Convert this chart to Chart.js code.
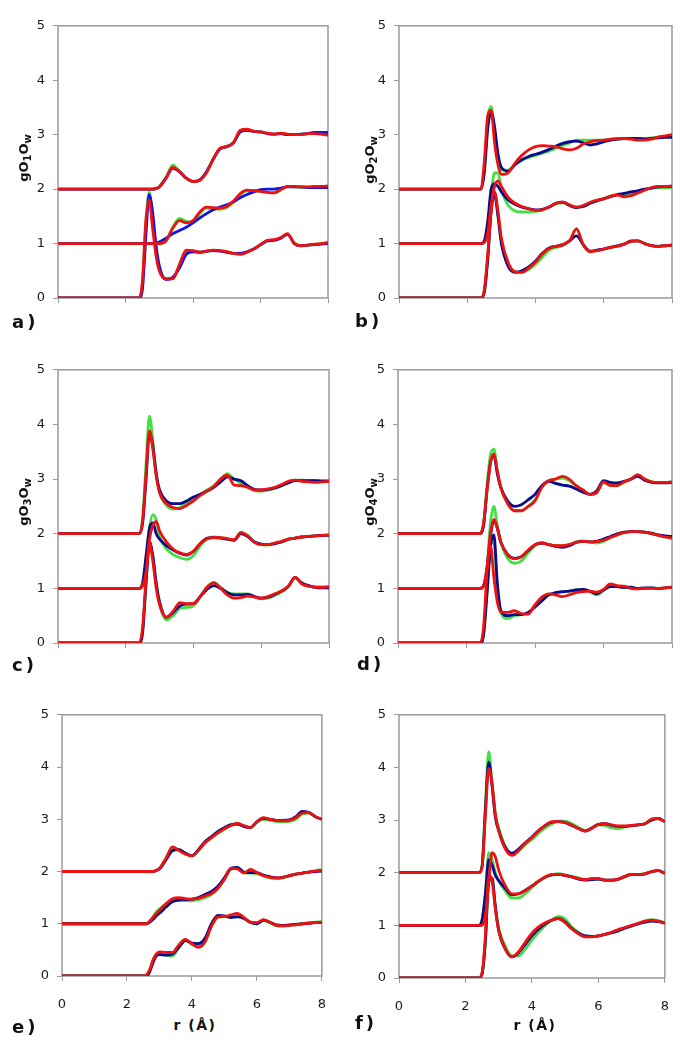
<!DOCTYPE html>
<html><head><meta charset="utf-8">
<script src="https://cdn.jsdelivr.net/npm/chart.js@4.4.0/dist/chart.umd.min.js"></script>
<style>
html,body{margin:0;padding:0;background:#fff;}
#wrap{position:relative;width:691px;height:1050px;overflow:hidden;background:#fff;font-family:"DejaVu Sans",Verdana,sans-serif;}
canvas{position:absolute;}
.lab{position:absolute;font-weight:bold;font-size:18px;line-height:18px;letter-spacing:3px;color:#111;white-space:nowrap;}
.xt{position:absolute;font-weight:bold;font-size:14px;line-height:14px;letter-spacing:1.5px;color:#111;width:100px;text-align:center;white-space:nowrap;}
.yt{position:absolute;font-weight:bold;font-size:13px;line-height:16px;width:100px;height:16px;text-align:center;transform:rotate(-90deg);color:#111;white-space:nowrap;}
.yt sub{font-size:10px;vertical-align:-3px;line-height:0;}
</style></head>
<body><div id="wrap"></div>
<script>
// r grid (Å)
const R = [0,2.4,2.5,2.6,2.7,2.8,2.9,3.0,3.2,3.4,3.6,3.8,4.0,4.2,4.4,4.6,4.8,5.0,5.2,5.4,5.6,5.8,6.0,6.2,6.4,6.6,6.8,7.0,7.2,7.4,7.6,7.8,8.0];
const Y_TICKS = [0,1,2,3,4,5];
const X_TICKS = [0,2,4,6,8];
const PANEL_LABELS = ['a)','b)','c)','d)','e)','f)'];
const Y_TITLES = [['gO','1','O','w'],['gO','2','O','w'],['gO','3','O','w'],['gO','4','O','w'],null,null];
const X_TITLE = 'r (Å)';

// panel a
const aG0=[0,0,0.25,1.3,1.95,1.45,0.85,0.55,0.36,0.36,0.6,0.84,0.86,0.84,0.85,0.88,0.87,0.84,0.82,0.81,0.85,0.9,0.97,1.05,1.06,1.1,1.17,1.02,0.96,0.97,0.98,1.0,1.01];
const aB0=[0,0,0.15,1.1,1.9,1.6,1.0,0.6,0.34,0.38,0.55,0.8,0.85,0.84,0.86,0.87,0.86,0.84,0.82,0.82,0.85,0.9,0.98,1.05,1.06,1.1,1.17,1.0,0.96,0.97,0.98,0.99,1.0];
const aR0=[0,0,0.3,1.4,1.8,1.3,0.8,0.5,0.35,0.35,0.62,0.88,0.87,0.84,0.86,0.88,0.87,0.85,0.82,0.8,0.84,0.9,0.98,1.06,1.07,1.11,1.18,1.0,0.96,0.97,0.99,1.0,1.02];
const aG1=[1,1,1,1,1,1,1,1.0,1.05,1.3,1.46,1.41,1.4,1.55,1.65,1.64,1.63,1.66,1.76,1.9,1.97,1.97,1.96,1.94,1.93,1.99,2.05,2.04,2.03,2.03,2.04,2.04,2.05];
const aB1=[1,1,1,1,1,1,1,1.03,1.1,1.18,1.24,1.3,1.38,1.47,1.55,1.62,1.67,1.71,1.77,1.84,1.9,1.95,1.99,2.0,2.0,2.02,2.04,2.04,2.04,2.03,2.03,2.03,2.03];
const aR1=[1,1,1,1,1,1,1,1.0,1.05,1.28,1.42,1.38,1.42,1.58,1.67,1.66,1.65,1.68,1.78,1.92,1.98,1.97,1.96,1.94,1.93,1.99,2.05,2.05,2.04,2.04,2.05,2.05,2.06];
const aG2=[2,2,2,2,2,2,2.01,2.04,2.22,2.44,2.33,2.2,2.14,2.17,2.32,2.55,2.74,2.78,2.85,3.05,3.08,3.06,3.05,3.02,3.01,3.02,3.0,3.0,3.01,3.02,3.04,3.02,3.0];
const aB2=[2,2,2,2,2,2,2.01,2.04,2.2,2.38,2.32,2.2,2.14,2.17,2.32,2.55,2.74,2.78,2.85,3.05,3.08,3.06,3.05,3.02,3.01,3.02,3.0,3.0,3.01,3.02,3.04,3.04,3.04];
const aR2=[2,2,2,2,2,2,2.01,2.04,2.2,2.4,2.32,2.2,2.14,2.16,2.3,2.55,2.75,2.78,2.86,3.08,3.1,3.06,3.05,3.03,3.01,3.03,3.01,3.0,3.0,3.02,3.02,3.01,2.99];
// panel b
const bG0=[0,0,0.12,0.75,1.6,1.93,1.55,1.05,0.62,0.49,0.48,0.52,0.62,0.75,0.88,0.93,0.96,1.06,1.27,0.97,0.85,0.87,0.9,0.93,0.96,0.99,1.04,1.05,1.0,0.96,0.95,0.96,0.97];
const bB0=[0,0,0.1,0.7,1.6,1.9,1.5,1.0,0.58,0.47,0.5,0.57,0.68,0.82,0.92,0.95,0.98,1.05,1.14,0.98,0.86,0.88,0.9,0.93,0.96,0.99,1.05,1.05,1.0,0.96,0.95,0.96,0.97];
const bR0=[0,0,0.15,0.8,1.6,1.95,1.6,1.1,0.65,0.48,0.47,0.55,0.66,0.81,0.91,0.95,0.98,1.05,1.27,0.98,0.85,0.87,0.9,0.93,0.95,0.99,1.04,1.05,1.0,0.96,0.95,0.96,0.97];
const bG1=[1,1,1.03,1.3,1.9,2.3,2.3,2.0,1.7,1.6,1.58,1.58,1.59,1.62,1.67,1.73,1.75,1.7,1.67,1.69,1.74,1.78,1.83,1.87,1.9,1.9,1.93,1.96,1.99,2.02,2.03,2.03,2.03];
const bB1=[1,1,1.05,1.4,2.0,2.1,2.05,1.95,1.8,1.72,1.67,1.64,1.62,1.63,1.67,1.74,1.76,1.7,1.66,1.68,1.74,1.79,1.82,1.86,1.9,1.92,1.95,1.97,2.0,2.02,2.04,2.05,2.05];
const bR1=[1,1,1.02,1.2,1.7,2.05,2.15,2.05,1.85,1.74,1.68,1.64,1.61,1.62,1.67,1.74,1.76,1.71,1.67,1.7,1.76,1.8,1.82,1.87,1.89,1.86,1.88,1.93,1.98,2.03,2.05,2.05,2.06];
const bG2=[2,2,2.4,3.3,3.52,3.0,2.55,2.35,2.35,2.45,2.53,2.58,2.62,2.66,2.7,2.75,2.8,2.85,2.9,2.9,2.9,2.9,2.9,2.91,2.92,2.93,2.93,2.93,2.93,2.94,2.95,2.96,2.97];
const bB2=[2,2,2.3,3.1,3.42,3.15,2.65,2.4,2.33,2.45,2.54,2.6,2.64,2.68,2.73,2.79,2.84,2.87,2.88,2.85,2.81,2.83,2.87,2.9,2.92,2.93,2.93,2.93,2.92,2.93,2.94,2.95,2.95];
const bR2=[2,2,2.5,3.35,3.45,2.85,2.45,2.27,2.3,2.48,2.62,2.72,2.78,2.8,2.79,2.78,2.74,2.72,2.75,2.83,2.87,2.89,2.9,2.92,2.93,2.93,2.92,2.9,2.9,2.92,2.96,2.98,3.0];
// panel c
const cG0=[0,0,0.25,1.1,1.8,1.55,1.05,0.7,0.42,0.5,0.63,0.65,0.68,0.85,1.03,1.11,1.02,0.93,0.9,0.9,0.9,0.85,0.81,0.82,0.87,0.93,1.03,1.19,1.09,1.04,1.02,1.02,1.02];
const cB0=[0,0,0.2,1.1,1.85,1.6,1.1,0.75,0.47,0.56,0.68,0.71,0.72,0.85,0.98,1.05,1.0,0.92,0.88,0.88,0.89,0.85,0.82,0.84,0.89,0.95,1.04,1.2,1.1,1.05,1.02,1.01,1.01];
const cR0=[0,0,0.3,1.2,1.85,1.5,1.0,0.7,0.47,0.58,0.74,0.72,0.72,0.85,1.02,1.1,1.0,0.88,0.82,0.83,0.86,0.84,0.82,0.85,0.9,0.95,1.04,1.2,1.08,1.04,1.02,1.02,1.03];
const cG1=[1,1,1.1,1.5,2.1,2.35,2.25,1.95,1.72,1.62,1.56,1.53,1.6,1.78,1.9,1.94,1.93,1.9,1.89,2.03,1.97,1.85,1.8,1.79,1.82,1.85,1.89,1.92,1.94,1.95,1.96,1.97,1.98];
const cB1=[1,1,1.1,1.6,2.1,2.2,2.0,1.9,1.78,1.7,1.64,1.61,1.68,1.82,1.92,1.93,1.92,1.9,1.88,2.0,1.95,1.85,1.81,1.8,1.82,1.85,1.9,1.92,1.94,1.95,1.96,1.97,1.97];
const cR1=[1,1,1.05,1.3,1.9,2.15,2.22,2.05,1.85,1.72,1.65,1.62,1.68,1.82,1.91,1.93,1.93,1.91,1.89,2.02,1.96,1.84,1.8,1.8,1.83,1.86,1.9,1.92,1.94,1.95,1.96,1.97,1.98];
const cG2=[2,2,2.3,3.3,4.15,3.7,3.1,2.75,2.52,2.45,2.48,2.57,2.65,2.72,2.8,2.88,3.0,3.1,3.0,2.92,2.85,2.79,2.78,2.8,2.83,2.88,2.94,2.98,2.98,2.97,2.97,2.97,2.97];
const cB2=[2,2,2.2,3.0,3.85,3.6,3.1,2.8,2.6,2.55,2.55,2.6,2.67,2.72,2.78,2.85,2.95,3.04,3.0,2.97,2.88,2.81,2.8,2.81,2.84,2.88,2.93,2.97,2.97,2.97,2.97,2.96,2.96];
const cR2=[2,2,2.25,3.1,3.88,3.55,3.05,2.75,2.55,2.48,2.46,2.52,2.6,2.7,2.78,2.86,3.0,3.07,2.89,2.88,2.85,2.8,2.8,2.82,2.85,2.9,2.96,2.98,2.96,2.95,2.94,2.95,2.96];
// panel d
const dG0=[0,0,0.2,1.0,1.8,1.85,1.0,0.55,0.45,0.5,0.52,0.55,0.66,0.78,0.88,0.92,0.93,0.95,0.97,0.98,0.94,0.88,0.96,1.04,1.03,1.02,1.01,1.0,1.0,1.01,1.0,1.01,1.02];
const dB0=[0,0,0.15,0.9,1.75,1.98,1.1,0.6,0.5,0.52,0.52,0.56,0.66,0.77,0.88,0.92,0.94,0.95,0.97,0.98,0.95,0.9,0.97,1.03,1.03,1.02,1.02,1.0,1.01,1.01,1.0,1.01,1.02];
const dR0=[0,0,0.3,1.3,1.78,1.2,0.75,0.57,0.56,0.59,0.54,0.53,0.7,0.84,0.9,0.88,0.85,0.88,0.92,0.94,0.95,0.93,0.98,1.08,1.05,1.04,1.0,0.99,1.0,1.0,1.0,1.01,1.02];
const dG1=[1,1,1.05,1.4,2.2,2.5,2.15,1.85,1.55,1.46,1.5,1.65,1.78,1.83,1.8,1.78,1.78,1.8,1.85,1.87,1.85,1.83,1.86,1.93,1.98,2.02,2.04,2.04,2.03,2.0,1.97,1.94,1.93];
const dB1=[1,1,1.05,1.35,1.95,2.25,2.1,1.85,1.62,1.55,1.58,1.69,1.8,1.83,1.8,1.77,1.75,1.78,1.84,1.86,1.85,1.86,1.9,1.95,2.0,2.03,2.04,2.04,2.03,2.01,1.98,1.96,1.95];
const dR1=[1,1,1.05,1.4,2.0,2.26,2.1,1.85,1.62,1.54,1.58,1.7,1.8,1.83,1.8,1.78,1.78,1.8,1.84,1.86,1.85,1.86,1.88,1.93,1.98,2.02,2.04,2.04,2.03,2.0,1.97,1.94,1.92];
const dG2=[2,2,2.2,2.9,3.45,3.55,3.15,2.85,2.55,2.42,2.42,2.5,2.62,2.85,2.97,3.0,3.02,2.97,2.88,2.8,2.72,2.76,2.93,2.9,2.88,2.94,3.0,3.07,3.0,2.95,2.94,2.94,2.95];
const dB2=[2,2,2.15,2.8,3.3,3.43,3.1,2.85,2.6,2.5,2.53,2.62,2.72,2.88,2.96,2.92,2.89,2.87,2.82,2.76,2.72,2.78,2.97,2.94,2.93,2.96,3.0,3.05,2.98,2.94,2.93,2.93,2.94];
const dR2=[2,2,2.2,2.8,3.3,3.46,3.15,2.85,2.55,2.42,2.42,2.5,2.6,2.85,2.97,3.0,3.05,3.0,2.88,2.8,2.72,2.75,2.95,2.88,2.88,2.95,3.0,3.08,3.0,2.95,2.94,2.94,2.95];
// panel e
const eG0=[0,0,0,0.01,0.12,0.3,0.41,0.42,0.4,0.38,0.55,0.68,0.6,0.56,0.66,0.95,1.12,1.14,1.15,1.17,1.1,1.02,1.0,1.06,1.02,0.96,0.96,0.97,0.99,1.0,1.02,1.03,1.04];
const eB0=[0,0,0,0,0.08,0.25,0.38,0.41,0.4,0.42,0.55,0.68,0.63,0.62,0.72,1.0,1.16,1.15,1.12,1.13,1.1,1.03,1.0,1.07,1.03,0.98,0.97,0.98,0.99,1.0,1.01,1.02,1.02];
const eR0=[0,0,0,0.02,0.12,0.3,0.42,0.46,0.45,0.45,0.6,0.7,0.62,0.55,0.65,0.95,1.13,1.14,1.17,1.2,1.12,1.03,1.02,1.08,1.03,0.97,0.96,0.97,0.98,1.0,1.01,1.02,1.03];
const eG1=[1,1,1,1,1.05,1.13,1.22,1.28,1.38,1.45,1.47,1.45,1.44,1.46,1.5,1.56,1.67,1.85,2.04,2.07,1.98,1.97,1.96,1.92,1.88,1.87,1.88,1.91,1.95,1.97,1.99,2.01,2.04];
const eB1=[1,1,1,1,1.03,1.08,1.15,1.2,1.32,1.42,1.45,1.46,1.47,1.5,1.56,1.62,1.72,1.88,2.06,2.08,1.99,1.98,1.98,1.93,1.9,1.88,1.89,1.92,1.95,1.97,1.99,2.0,2.01];
const eR1=[1,1,1,1,1.05,1.12,1.2,1.26,1.38,1.48,1.5,1.48,1.47,1.49,1.53,1.58,1.68,1.85,2.06,2.05,1.97,2.04,1.98,1.92,1.89,1.88,1.89,1.92,1.95,1.97,1.99,2.01,2.02];
const eG2=[2,2,2,2,2,2,2.02,2.06,2.25,2.45,2.42,2.34,2.3,2.4,2.54,2.64,2.73,2.81,2.88,2.91,2.87,2.84,2.94,3.0,2.98,2.96,2.95,2.96,3.0,3.1,3.12,3.05,3.0];
const eB2=[2,2,2,2,2,2,2.02,2.05,2.22,2.4,2.42,2.35,2.3,2.42,2.57,2.67,2.77,2.84,2.9,2.91,2.86,2.84,2.95,3.02,3.0,2.98,2.98,2.99,3.05,3.15,3.13,3.05,3.0];
const eR2=[2,2,2,2,2,2,2.02,2.06,2.25,2.47,2.4,2.33,2.3,2.4,2.55,2.65,2.74,2.82,2.88,2.92,2.88,2.84,2.95,3.03,3.0,2.98,2.97,2.98,3.03,3.12,3.13,3.05,3.0];
// panel f
const fG0=[0,0,0.08,0.7,1.85,1.85,1.35,0.95,0.6,0.42,0.42,0.55,0.72,0.87,1.0,1.1,1.17,1.12,0.97,0.87,0.8,0.79,0.8,0.83,0.86,0.89,0.94,0.99,1.04,1.08,1.11,1.09,1.05];
const fB0=[0,0,0.08,0.7,1.85,1.9,1.35,0.9,0.55,0.4,0.48,0.64,0.8,0.93,1.03,1.1,1.13,1.06,0.94,0.85,0.8,0.79,0.8,0.83,0.86,0.9,0.95,0.99,1.03,1.06,1.08,1.07,1.04];
const fR0=[0,0,0.1,0.8,1.95,1.85,1.3,0.9,0.55,0.4,0.5,0.68,0.85,0.97,1.05,1.1,1.13,1.05,0.93,0.84,0.78,0.78,0.8,0.83,0.87,0.92,0.96,1.0,1.04,1.08,1.1,1.08,1.04];
const fG1=[1,1,1.1,1.6,2.38,2.25,2.0,1.85,1.65,1.52,1.52,1.6,1.72,1.83,1.91,1.96,1.98,1.96,1.93,1.9,1.87,1.87,1.88,1.86,1.85,1.87,1.92,1.96,1.97,1.98,2.02,2.04,1.99];
const fB1=[1,1,1.1,1.6,2.25,2.15,1.95,1.85,1.7,1.58,1.6,1.67,1.75,1.84,1.92,1.96,1.97,1.95,1.92,1.88,1.86,1.87,1.88,1.86,1.86,1.88,1.93,1.97,1.97,1.98,2.02,2.04,1.99];
const fR1=[1,1,1.0,1.2,1.8,2.38,2.3,2.05,1.75,1.6,1.6,1.66,1.75,1.84,1.92,1.97,1.97,1.95,1.92,1.89,1.87,1.89,1.89,1.86,1.86,1.88,1.93,1.97,1.97,1.98,2.02,2.04,1.99];
const fG2=[2,2,2.15,3.3,4.3,3.7,3.1,2.85,2.5,2.36,2.42,2.53,2.63,2.75,2.85,2.93,2.98,2.98,2.93,2.86,2.8,2.85,2.91,2.9,2.85,2.84,2.87,2.89,2.91,2.93,3.02,3.03,2.97];
const fB2=[2,2,2.12,3.2,4.1,3.65,3.05,2.8,2.48,2.37,2.45,2.57,2.68,2.8,2.9,2.96,2.97,2.95,2.9,2.84,2.79,2.85,2.92,2.93,2.9,2.88,2.88,2.9,2.91,2.93,3.0,3.03,2.97];
const fR2=[2,2,2.1,3.1,3.98,3.7,3.1,2.8,2.45,2.33,2.42,2.56,2.67,2.8,2.9,2.97,2.97,2.95,2.9,2.84,2.79,2.84,2.92,2.93,2.91,2.89,2.89,2.9,2.91,2.93,3.02,3.03,2.97];

const SERIES = [
  [[aG0,aB0,aR0],[aG1,aB1,aR1],[aG2,aB2,aR2]],
  [[bG0,bB0,bR0],[bG1,bB1,bR1],[bG2,bB2,bR2]],
  [[cG0,cB0,cR0],[cG1,cB1,cR1],[cG2,cB2,cR2]],
  [[dG0,dB0,dR0],[dG1,dB1,dR1],[dG2,dB2,dR2]],
  [[eG0,eB0,eR0],[eG1,eB1,eR1],[eG2,eB2,eR2]],
  [[fG0,fB0,fR0],[fG1,fB1,fR1],[fG2,fB2,fR2]]
];

// ---- layout / style (not data) ----
const BOX = [ [58,20,328,298], [399,20,672,298], [58,364,329,643], [398,364,672,643], [62,709,328,976], [399,709,671,978] ];
const LAB_POS = [ [12,313], [355,312], [12,656], [357,655], [12,1018], [355,1014] ];
const YT_CENTER = [ [24,158], [370,160], [24,502], [370,502] ];
const GREEN = '#44dd44', RED = '#ee1111';
const BLUE = ['#1414e6','#0a0a8c','#0a0a8c','#0a0a8c','#0a0a8c','#0a0a8c'];
const AXW = 40, PT = 10, PR = 14, AXH = 40;

const wrap = document.getElementById('wrap');
const boxPlugin = {
  id: 'plotBox',
  beforeDatasetsDraw(chart) {
    const a = chart.chartArea, ctx = chart.ctx;
    ctx.save();
    ctx.strokeStyle = '#9a9a9a';
    ctx.lineWidth = 1.5;
    ctx.strokeRect(a.left, a.top, a.right - a.left, a.bottom - a.top);
    ctx.restore();
  }
};

SERIES.forEach((panel, p) => {
  const [l, t, r, b] = BOX[p];
  const cv = document.createElement('canvas');
  const W = (r - l) + AXW + PR, H = (b - t) + PT + AXH;
  cv.width = W; cv.height = H;
  cv.style.left = (l - AXW) + 'px';
  cv.style.top = (t - PT) + 'px';
  cv.style.width = W + 'px'; cv.style.height = H + 'px';
  wrap.appendChild(cv);
  const showX = p >= 4;
  const datasets = [];
  panel.forEach(trio => {
    const cols = [GREEN, BLUE[p], RED];
    trio.forEach((arr, k) => {
      datasets.push({
        data: R.map((x, i) => ({ x: x, y: arr[i] })),
        borderColor: cols[k],
        borderWidth: 2.8,
        pointRadius: 0,
        fill: false,
        cubicInterpolationMode: 'monotone',
        order: 3 - k
      });
    });
  });
  new Chart(cv, {
    type: 'line',
    data: { datasets },
    plugins: [boxPlugin],
    options: {
      responsive: false,
      animation: false,
      devicePixelRatio: 1,
      layout: { padding: { top: PT, right: PR, left: 0, bottom: 0 } },
      plugins: { legend: { display: false }, tooltip: { enabled: false } },
      scales: {
        x: {
          type: 'linear', min: 0, max: 8,
          afterBuildTicks: s => { s.ticks = X_TICKS.map(v => ({ value: v })); },
          afterFit: s => { s.height = AXH; },
          grid: { drawOnChartArea: false, drawTicks: true, tickLength: 5, color: '#9a9a9a' },
          border: { display: false },
          ticks: { display: showX, padding: 16, color: '#1a1a1a', font: { family: 'DejaVu Sans', size: 13 } }
        },
        y: {
          type: 'linear', min: 0, max: 5,
          afterBuildTicks: s => { s.ticks = Y_TICKS.map(v => ({ value: v })); },
          afterFit: s => { s.width = AXW; },
          grid: { drawOnChartArea: false, drawTicks: true, tickLength: 5, color: '#9a9a9a' },
          border: { display: false },
          ticks: { padding: 8, color: '#1a1a1a', font: { family: 'DejaVu Sans', size: 13 } }
        }
      }
    }
  });
  // panel letter
  const lab = document.createElement('div');
  lab.className = 'lab';
  lab.textContent = PANEL_LABELS[p];
  lab.style.left = LAB_POS[p][0] + 'px';
  lab.style.top = LAB_POS[p][1] + 'px';
  wrap.appendChild(lab);
  // y title
  if (Y_TITLES[p]) {
    const yt = document.createElement('div');
    yt.className = 'yt';
    const parts = Y_TITLES[p];
    yt.innerHTML = parts[0] + '<sub>' + parts[1] + '</sub>' + parts[2] + '<sub>' + parts[3] + '</sub>';
    yt.style.left = (YT_CENTER[p][0] - 50) + 'px';
    yt.style.top = (YT_CENTER[p][1] - 8) + 'px';
    wrap.appendChild(yt);
  }
  // x title
  if (showX) {
    const xt = document.createElement('div');
    xt.className = 'xt';
    xt.textContent = X_TITLE;
    xt.style.left = ((l + r) / 2 - 50) + 'px';
    xt.style.top = '1018px';
    wrap.appendChild(xt);
  }
});
</script>
</body></html>
